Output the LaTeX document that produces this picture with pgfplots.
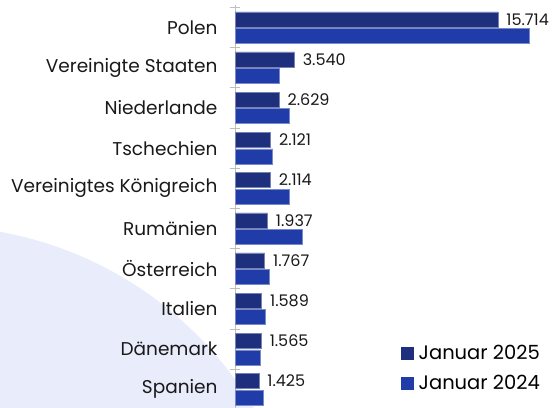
\documentclass[border=0pt]{standalone}
\usepackage{fontspec}
\setmainfont{Poppins}
\usepackage{pgfplots}
\pgfplotsset{compat=1.18}
\definecolor{c25}{RGB}{30,47,125}
\definecolor{c24}{RGB}{31,60,168}
\definecolor{bg}{RGB}{232,236,251}
\begin{document}
\begin{tikzpicture}
\useasboundingbox (0pt,0pt) rectangle (553pt,-407pt);
\begin{scope}
\clip (0pt,0pt) rectangle (553pt,-407pt);
\fill[bg] (-66pt,-598pt) circle (372pt);
\end{scope}
\begin{axis}[
  at={(235pt,-5.4pt)}, anchor=north west,
  scale only axis, width=309.4pt, height=404pt,
  xbar, bar width=15pt, bar shift=0pt,
  xmin=0, xmax=18500,
  ymin=-0.55, ymax=9.5, y dir=reverse,
  axis x line=none, axis y line*=left,
  y axis line style={draw=black!25, line width=0.8pt, -},
  ytick={0,...,9},
  yticklabels={Polen,Vereinigte Staaten,Niederlande,Tschechien,Vereinigtes Königreich,Rumänien,Österreich,Italien,Dänemark,Spanien},
  major tick length=0pt,
  minor ytick={-0.5,0.5,...,8.5}, minor tick length=10pt, tick align=center,
  minor tick style={black!25, line width=0.8pt},
  yticklabel style={font=\fontsize{18.5}{20}\selectfont, color=black!90, xshift=-14pt},
  clip=false,
  /pgf/number format/1000 sep={.},
  legend style={at={(1.002,0.04)}, anchor=south east, draw=none, fill=none,
    font=\fontsize{19.5}{22}\selectfont, row sep=10pt, inner sep=0pt,
    legend cell align=left, nodes={inner xsep=5pt}},
]
\addplot[fill=c25, draw=c25!60!white, line width=0.5pt,
  nodes near coords,
  nodes near coords style={anchor=west, xshift=5pt, color=black!90, font=\fontsize{16}{18}\selectfont, /pgf/number format/assume math mode=true},
  legend image code/.code={\fill[c25] (0pt,-6pt) rectangle (12pt,6pt);}]
coordinates {(15714,-0.205) (3540,0.795) (2629,1.795) (2121,2.795) (2114,3.795) (1937,4.795) (1767,5.795) (1589,6.795) (1565,7.795) (1425,8.795)};
\addlegendentry{Januar 2025}
\addplot[fill=c24, draw=c24!60!white, line width=0.5pt,
  legend image code/.code={\fill[c24] (0pt,-6pt) rectangle (12pt,6pt);}]
coordinates {(17600,0.205) (2650,1.205) (3230,2.205) (2250,3.205) (3270,4.205) (4020,5.205) (2050,6.205) (1790,7.205) (1500,8.205) (1690,9.205)};
\addlegendentry{Januar 2024}
\end{axis}
\end{tikzpicture}
\end{document}
